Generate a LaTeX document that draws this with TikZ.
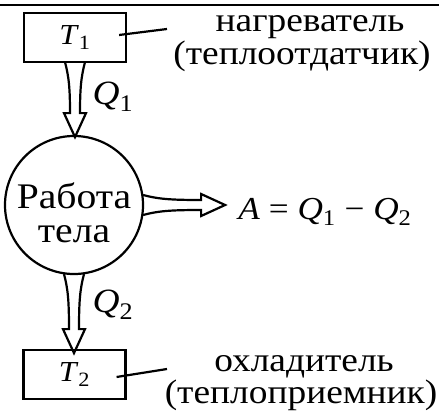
\documentclass[tikz,border=0pt]{standalone}
\usepackage{fontspec}
\setmainfont[FakeStretch=1.1]{Liberation Serif}
\usetikzlibrary{calc}

\tikzset{
  chamber/.style={draw, line width=2.2pt, minimum width=102pt, minimum height=49pt,
    inner sep=0pt, font=\fontsize{29}{30}\selectfont},
  worker/.style={draw, circle, line width=2.2pt, minimum size=138pt, inner sep=0pt},
  txt/.style={inner sep=0pt, anchor=base, font=\fontsize{34}{34}\selectfont},
  wire/.style={line width=2.2pt},
  % hollow tapered arrow along +x, #1 = length
  flow/.pic={
    \draw[line width=2.2pt, line join=miter]
      (-1,10) .. controls (14,6) and (26,5) .. (#1-24,5) -- (#1-24,11) -- (#1,0)
      -- (#1-24,-11) -- (#1-24,-5) .. controls (26,-5) and (14,-6) .. (-1,-10);
  }
}

\begin{document}
\begin{tikzpicture}[x=1pt, y=-1pt]
  \useasboundingbox (0,0) rectangle (439,415);
  \draw[line width=2.5pt] (0,5) -- (439,5);

  % reservoirs and working body
  \node[chamber] (hot) at (75,37.5) {\textit{T}\textsubscript{1}};
  \node[worker] (body) at (74,205) {};
  \node[txt, font=\fontsize{36}{36}\selectfont] (bodytop) at (74,208) {Работа};
  \node[txt, font=\fontsize{36}{36}\selectfont] (bodybot) at (74,242) {тела};
  \node[chamber] (cold) at (74.5,374.5) {\textit{T}\textsubscript{2}};

  % heat and work flows
  \path (hot.south) pic[rotate=-90] {flow=74};
  \path (body.south) pic[rotate=-90] {flow=78};
  \path (body.east) pic {flow=81};
  \node[txt, anchor=center] (q1) at (113,97) {\textit{Q}\textsubscript{1}};
  \node[txt, anchor=center] (q2) at (113,305) {\textit{Q}\textsubscript{2}};
  \node[txt, font=\fontsize{32}{34}\selectfont] (work) at (325,219)
    {\textit{A} = \textit{Q}\textsubscript{1} − \textit{Q}\textsubscript{2}};

  % names of the reservoirs
  \node[txt] (hotname) at (310,31) {нагреватель};
  \node[txt] (hotsub) at (302,64) {(теплоотдатчик)};
  \node[txt] (coldname) at (304,371) {охладитель};
  \node[txt] (coldsub) at (301,403) {(теплоприемник)};
  \coordinate (hotend) at (167,29);
  \coordinate (coldend) at (167,369);
  \draw[wire] ([shift={(-8,-2.5)}]hot.east) -- (hotend);
  \draw[wire] ([shift={(-10,2.5)}]cold.east) -- (coldend);
\end{tikzpicture}
\end{document}
